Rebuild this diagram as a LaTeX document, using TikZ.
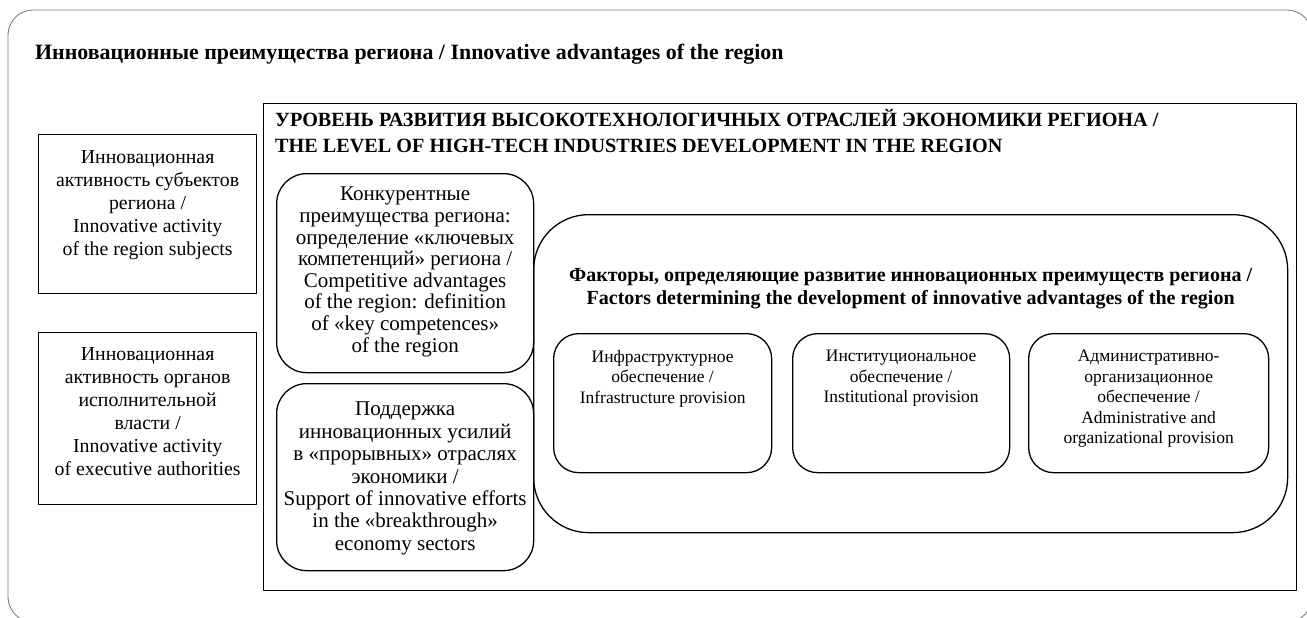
\documentclass[tikz,border=0pt]{standalone}
\usepackage{fontspec}
\setmainfont{Liberation Serif}
\usetikzlibrary{positioning}
\tikzset{
  frame/.style={draw=black!50, line width=0.9pt, rounded corners=25pt},
  sqbox/.style={draw, line width=1.3pt, inner sep=0pt, anchor=north west},
  rndbox/.style={sqbox, rounded corners=#1},
  rndbox/.default=30pt,
  txt/.style={align=center, inner sep=0pt, font=\fontsize{19.8}{23}\selectfont},
  bigtxt/.style={align=center, inner sep=0pt, font=\fontsize{21}{21.6}\selectfont},
  smalltxt/.style={align=center, inner sep=0pt, font=\fontsize{17.5}{20.5}\selectfont},
  headtxt/.style={align=left, inner sep=0pt, font=\bfseries\fontsize{20.2}{26}\selectfont}
}
\begin{document}
\begin{tikzpicture}[x=1pt, y=-1pt, line join=round, line cap=round]
\useasboundingbox (0,0) rectangle (1307,618);
% outer frame, cut at the right and bottom
\draw[frame] (8,10) rectangle (1312,622);
\node[anchor=west, inner sep=0pt, font=\bfseries\fontsize{21.9}{24}\selectfont] (title) at (35,54)
  {Инновационные преимущества региона / Innovative advantages of the region};
% left boxes
\node[sqbox, minimum width=218pt, minimum height=159pt] (subj) at (38,134) {};
\node[txt, below=16pt of subj.north] (subjt) {Инновационная\\активность субъектов\\региона /\\Innovative activity\\of the region subjects};
\node[sqbox, minimum width=218pt, minimum height=172pt] (exec) at (38,332) {};
\node[txt, below=15pt of exec.north] (exect) {Инновационная\\активность органов\\исполнительной\\власти /\\Innovative activity\\of executive authorities};
% level of high-tech industries
\node[sqbox, minimum width=1033pt, minimum height=487pt] (level) at (263,103) {};
\node[headtxt, anchor=north west] (levelt) at ([xshift=12pt, yshift=-6pt]level.north west)
  {УРОВЕНЬ РАЗВИТИЯ ВЫСОКОТЕХНОЛОГИЧНЫХ ОТРАСЛЕЙ ЭКОНОМИКИ РЕГИОНА /\\THE LEVEL OF HIGH-TECH INDUSTRIES DEVELOPMENT IN THE REGION};
\node[rndbox, minimum width=257pt, minimum height=199pt] (comp) at (276,173) {};
\node[bigtxt, below=14pt of comp.north] (compt) {Конкурентные\\преимущества региона:\\определение «ключевых\\компетенций» региона /\\Competitive advantages\\of the region: definition\\of «key competences»\\of the region};
\node[rndbox, minimum width=257pt, minimum height=187pt] (supp) at (276,383) {};
\node[bigtxt, below=19pt of supp.north, font=\fontsize{21}{22.4}\selectfont] (suppt) {Поддержка\\инновационных усилий\\в «прорывных» отраслях\\экономики /\\Support of innovative efforts\\in the «breakthrough»\\economy sectors};
% factors
\node[rndbox=55pt, minimum width=754pt, minimum height=318pt] (fact) at (533,214) {};
\node[txt, below=54pt of fact.north, font=\bfseries\fontsize{20}{23}\selectfont] (factt)
  {Факторы, определяющие развитие инновационных преимуществ региона /\\Factors determining the development of innovative advantages of the region};
\node[rndbox=25pt, minimum width=218pt, minimum height=139pt] (infra) at (553,333) {};
\node[smalltxt, below=17pt of infra.north] (infrat) {Инфраструктурное\\обеспечение /\\Infrastructure provision};
\node[rndbox=25pt, minimum width=217pt, minimum height=139pt] (inst) at (792,333) {};
\node[smalltxt, below=17pt of inst.north] (instt) {Институциональное\\обеспечение /\\Institutional provision};
\node[rndbox=25pt, minimum width=240pt, minimum height=139pt] (adm) at (1028,333) {};
\node[smalltxt, below=17pt of adm.north] (admt) {Административно-\\организационное\\обеспечение /\\Administrative and\\organizational provision};
\end{tikzpicture}
\end{document}
